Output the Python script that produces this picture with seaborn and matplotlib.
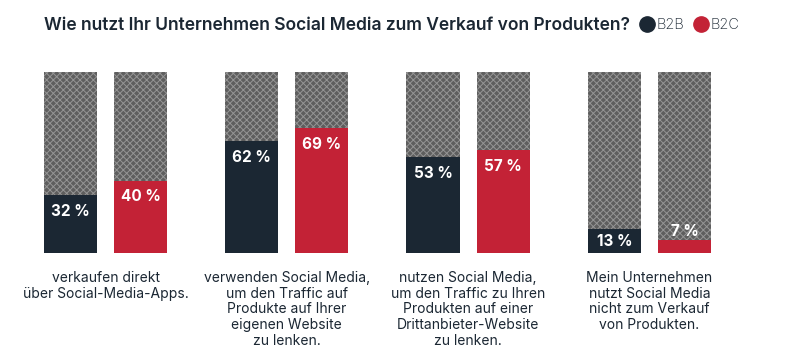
import numpy as np
import pandas as pd
import matplotlib.pyplot as plt
import seaborn as sns
from matplotlib.lines import Line2D

categories = ["verkaufen direkt\nüber Social-Media-Apps.",
              "verwenden Social Media,\num den Traffic auf\nProdukte auf Ihrer\neigenen Website\nzu lenken.",
              "nutzen Social Media,\num den Traffic zu Ihren\nProdukten auf einer\nDrittanbieter-Website\nzu lenken.",
              "Mein Unternehmen\nnutzt Social Media\nnicht zum Verkauf\nvon Produkten."]
segments = ["B2B", "B2C"]
b2b = [32, 62, 53, 13]
b2c = [40, 69, 57, 7]

title = "Wie nutzt Ihr Unternehmen Social Media zum Verkauf von Produkten?"
navy = "#1b2733"
red = "#c32236"

df = pd.DataFrame({
    "cat": list(range(len(categories))) * 2,
    "seg": ["B2B"] * 4 + ["B2C"] * 4,
    "val": b2b + b2c,
})
df["full"] = 100

sns.set_theme(style="white")
plt.rcParams['font.family'] = ['Inter', 'DejaVu Sans']
plt.rcParams['hatch.linewidth'] = 0.7

fig = plt.figure(figsize=(7.93, 3.51), dpi=100)
ax = fig.add_axes([0, (351 - 253) / 351, 1, 181 / 351])

# hatched background bars (100 %)
sns.barplot(data=df, x="cat", y="full", hue="seg", hue_order=segments,
            palette=["#5e5e5e", "#5e5e5e"], width=0.774, gap=0.243,
            legend=False, ax=ax, saturation=1)
for p in ax.patches:
    p.set_hatch("xxxxx")
    p.set_edgecolor("#959595")
    p.set_linewidth(0)
n_bg = len(ax.patches)

sns.barplot(data=df, x="cat", y="val", hue="seg", hue_order=segments,
            palette=[navy, red], width=0.774, gap=0.243,
            legend=False, ax=ax, saturation=1)
for p in ax.patches[n_bg:]:
    p.set_linewidth(0)

# value labels
for p in ax.patches[n_bg:]:
    h = p.get_height()
    cx = p.get_x() + p.get_width() / 2
    if h < 10:
        y = h + 5
    elif h < 20:
        y = h / 2
    else:
        y = h - 9
    ax.text(cx, y, f"{int(round(h))} %", ha="center", va="center",
            color="white", fontsize=11, fontweight="bold")

ax.set_ylim(0, 100)
ax.set_xlim(-105.5 / 181.3, (793 - 105.5) / 181.3)
ax.axis("off")

# category labels
for i, c in enumerate(categories):
    ax.text(i, -10, c, ha="center", va="top", fontsize=10, color=navy,
            linespacing=1.15)

fig.text(44 / 793, 1 - 25 / 351, title, ha="left", va="center",
         fontsize=12.55, fontweight="semibold", color=navy)

handles = [Line2D([], [], marker="o", ls="", color=navy, markersize=11),
           Line2D([], [], marker="o", ls="", color=red, markersize=11)]
fig.legend(handles, segments, loc="center left", bbox_to_anchor=(640 / 793, 1 - 25 / 351),
           ncol=2, frameon=False, handletextpad=0.1, columnspacing=0.7,
           labelcolor=navy, handlelength=1.0,
           borderpad=0, borderaxespad=0, prop={"weight": "light", "size": 10.5})

fig.savefig("out.png", dpi=100)
